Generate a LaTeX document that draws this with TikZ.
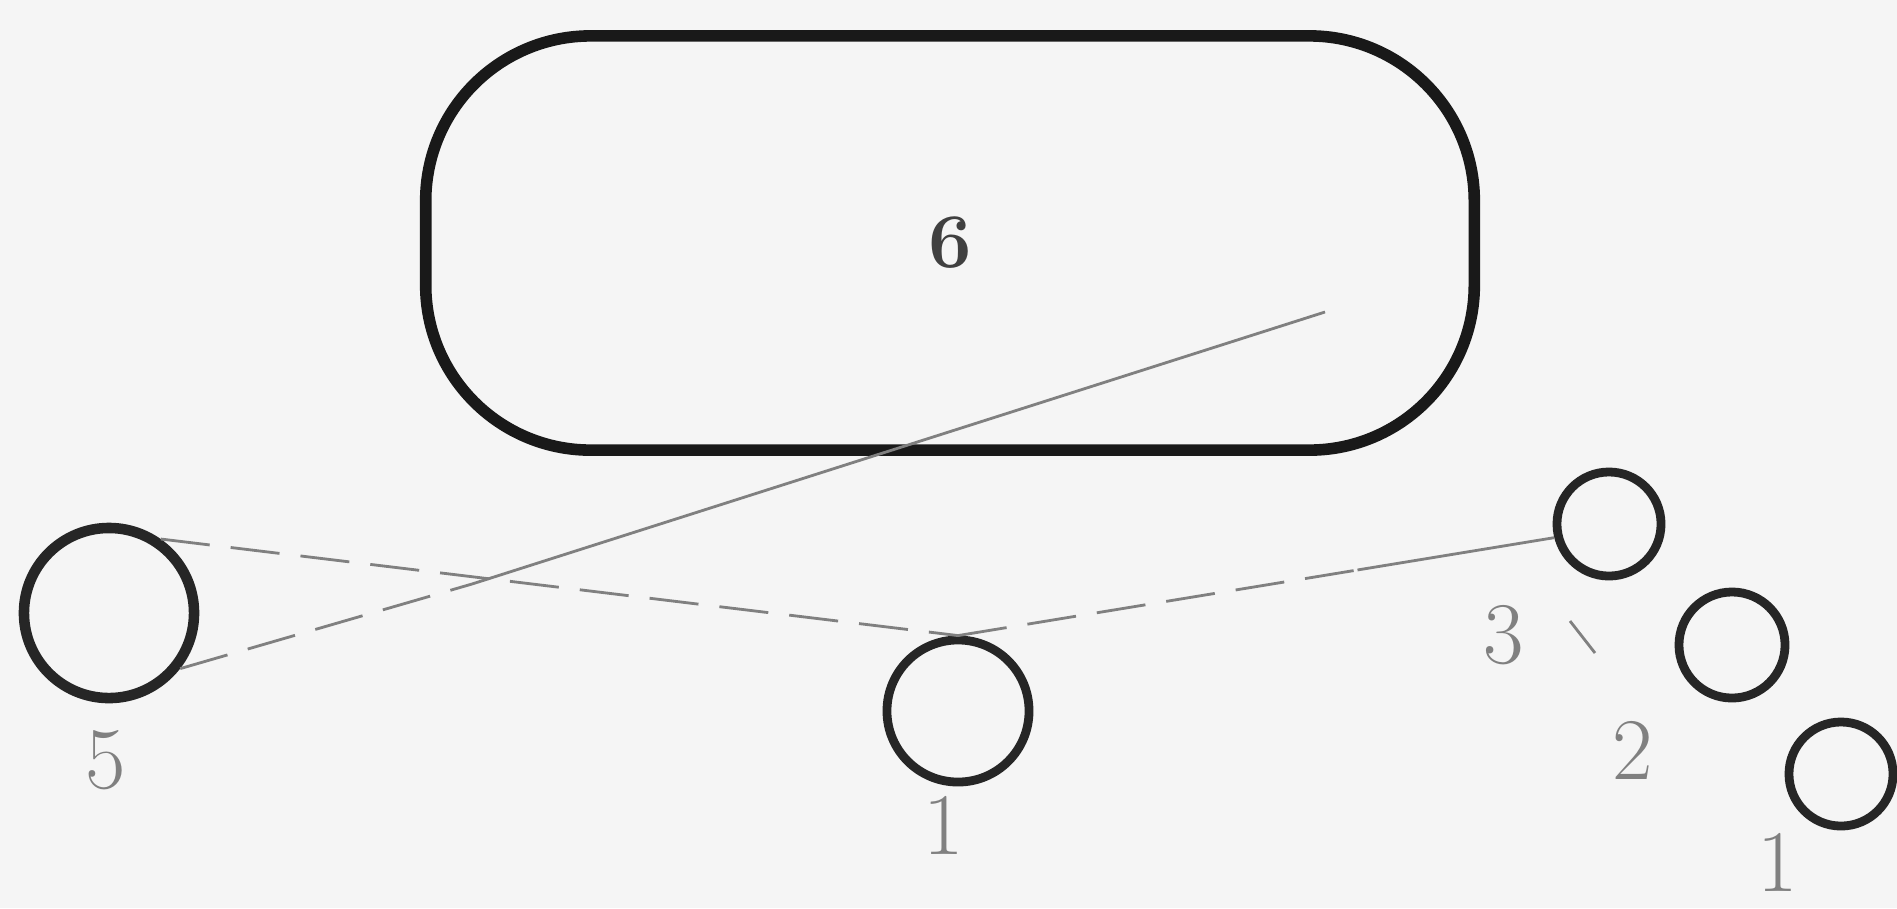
\documentclass[tikz,border=0pt]{standalone}
\usetikzlibrary{positioning,calc}
\tikzset{
  ring/.style={circle,draw=black!85,line width=2.5pt,inner sep=0pt},
  bigring/.style={ring,line width=3pt},
  vessel/.style={draw=black!90,line width=3.3pt,rounded corners=1.65cm,
    minimum width=10.48cm,minimum height=4.14cm,
    font=\bfseries\fontsize{22}{22}\selectfont,text=black!75},
  numlbl/.style={font=\fontsize{25}{25}\selectfont,text=black!50,inner sep=0pt},
  ray/.style={black!50,line width=0.8pt},
  rayfaint/.style={ray,dash pattern=on 14pt off 6pt},
}
\begin{document}
\begin{tikzpicture}[x=0.01cm,y=-0.01cm]
  \fill[black!4] (0,0) rectangle (1897,908);
  \useasboundingbox (0,0) rectangle (1897,908);
  % bodies
  \node[vessel] (c6) at (950,243) {6};
  \node[bigring,minimum size=1.7cm] (c5) at (109,613) {};
  \node[ring,minimum size=1.42cm] (c1) at (958,711) {};
  \node[ring,minimum size=1.04cm] (c3) at (1609,524) {};
  \node[ring,minimum size=1.06cm] (c2) at (1732,645) {};
  \node[ring,minimum size=1.04cm] (c1r) at (1841,774) {};
  % numbers
  \node[numlbl] (n5) at (106,760) {5};
  \node[numlbl] (n1) at (944,825) {1};
  \node[numlbl] (n3) at (1504,635) {3};
  \node[numlbl] (n2) at (1633,750) {2};
  \node[numlbl] (n1r) at (1778,862) {1};
  % sight lines
  \coordinate (p) at (472,584);
  \coordinate (tip) at (1325,312);
  \coordinate (m) at ($(c1.north)!0.67!(c3.194)$);
  \coordinate (t1) at (1570,621);
  \coordinate (t2) at (1595,653);
  \draw[rayfaint] (c5.-38) -- (p);
  \draw[ray] (p) -- (tip);
  \draw[rayfaint] (c5.55) -- (c1.north);
  \draw[rayfaint] (c1.north) -- (m);
  \draw[ray] (m) -- (c3.194);
  \draw[ray] (t1) -- (t2);
\end{tikzpicture}
\end{document}
